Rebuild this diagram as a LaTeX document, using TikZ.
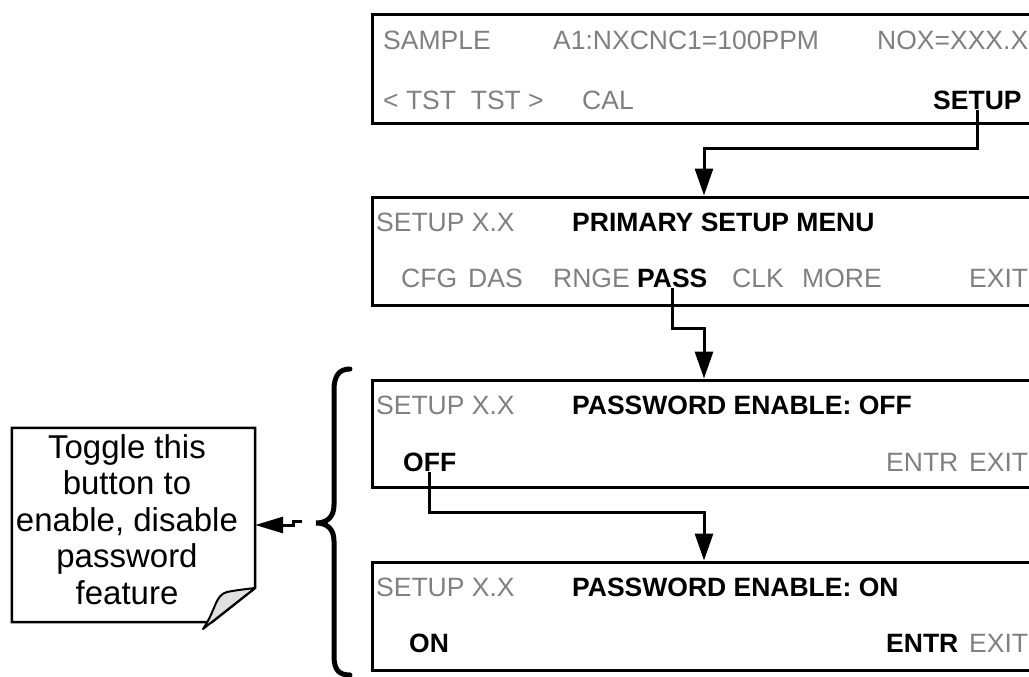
\documentclass[tikz,border=0pt]{standalone}
\usepackage{fontspec}
\setmainfont{Liberation Sans}
\usetikzlibrary{arrows.meta}
\definecolor{lcdgray}{RGB}{128,128,128}
\definecolor{flapgray}{RGB}{224,224,224}
\newcommand\lcdfont{\fontsize{26.5}{30}\selectfont}
\newcommand\notefont{\fontsize{33}{36.5}\selectfont}
\begin{document}
\begin{tikzpicture}[x=1pt,y=-1pt,
  lcd/.style={draw, line width=3pt, inner sep=0pt, fill=white, minimum width=718pt},
  g/.style={anchor=base west, inner sep=0pt, text=lcdgray, font=\lcdfont},
  k/.style={anchor=base west, inner sep=0pt, text=black, font=\lcdfont\bfseries},
  conn/.style={line width=3pt, -{Triangle[length=27pt,width=18pt]}},
  noteconn/.style={line width=3pt, -{Triangle[length=28pt,width=16pt]}},
]
\useasboundingbox (0,0) rectangle (1029,677);
\fill[white] (0,0) rectangle (1029,677);
\clip (0,0) rectangle (1029,677);

% LCD boxes
\node[lcd, minimum height=108pt] (b1) at (731,69) {};
\node[lcd, minimum height=108pt] (b2) at (731,251) {};
\node[lcd, minimum height=107pt] (b3) at (731,433.5) {};
\node[lcd, minimum height=108pt] (b4) at (731,616) {};

% box 1
\node[g] (sample) at (383,49.5) {SAMPLE};
\node[g] (a1) at (553,49.5) {A1:NXCNC1=100PPM};
\node[g] (nox) at (877,49.5) {NOX=XXX.X};
\node[g] (tst) at (383,109.5) {< TST\ \ TST >};
\node[g] (cal) at (582,109.5) {CAL};
\node[k] (setup) at (933,109.5) {SETUP};

% box 2
\node[g] (s2) at (376,231.5) {SETUP X.X};
\node[k] (psm) at (572,231.5) {PRIMARY SETUP MENU};
\node[g] (cfg) at (401,287.5) {CFG};
\node[g] (das) at (468,287.5) {DAS};
\node[g] (rnge) at (553,287.5) {RNGE};
\node[k] (pass) at (637,287.5) {PASS};
\node[g] (clk) at (732,287.5) {CLK};
\node[g] (more) at (802,287.5) {MORE};
\node[g] (exit2) at (969,287.5) {EXIT};

% box 3
\node[g] (s3) at (376,414.5) {SETUP X.X};
\node[k] (peoff) at (572,414.5) {PASSWORD ENABLE: OFF};
\node[k] (off) at (403,471.5) {OFF};
\node[g] (entr3) at (886,471.5) {ENTR};
\node[g] (exit3) at (969,471.5) {EXIT};

% box 4
\node[g] (s4) at (376,596.5) {SETUP X.X};
\node[k] (peon) at (572,596.5) {PASSWORD ENABLE: ON};
\node[k] (on) at (409,652.5) {ON};
\node[k] (entr4) at (886,652.5) {ENTR};
\node[g] (exit4) at (969,652.5) {EXIT};

% connectors
\coordinate (j1) at (704,148);
\coordinate (j2) at (704,328);
\coordinate (j3) at (704,512);
\draw[conn] (setup.south) |- (j1) -- (j1 |- b2.north);
\draw[conn] (pass.south) |- (j2) -- (j2 |- b3.north);
\draw[conn] (off.south) |- (j3) -- (j3 |- b4.north);

% brace
\draw[line width=5pt, line cap=round]
  (350,369) .. controls (339,369) and (334,376) .. (334,390)
  -- (334,505) .. controls (334,518) and (326,523) .. (316,523)
  .. controls (326,523) and (334,528) .. (334,541)
  -- (334,656) .. controls (334,670) and (339,675) .. (350,675);

% note
\node[minimum width=243pt, minimum height=194pt, inner sep=0pt] (notebox) at (133.5,525) {};
\draw[line width=2.5pt, fill=white, line join=miter]
  (notebox.north west) -- (notebox.north east) -- (255,588) -- (212,622) -- (notebox.south west) -- cycle;
\draw[line width=2pt, fill=flapgray, line join=round]
  (255,588) -- (203,629) .. controls (216,610) and (215,595) .. (227,592)
  .. controls (237,590) and (247,589) .. (255,588) -- cycle;
\node[font=\notefont, align=center, inner sep=0pt] (note) at (127,519.5)
  {Toggle this\\button to\\enable, disable\\password\\feature};

\coordinate (bt) at (302,521);
\coordinate (bj) at (293,525);
\draw[noteconn] (bt) -| (bj) -- (notebox.east);
\end{tikzpicture}
\end{document}
